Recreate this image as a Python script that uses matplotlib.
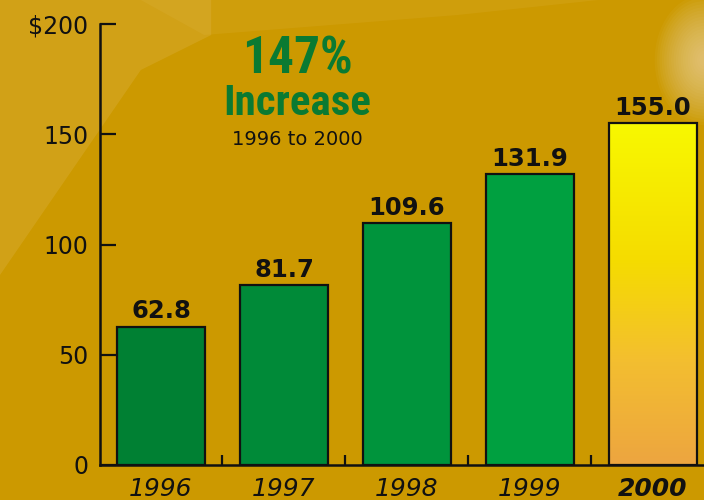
"""
Bar chart: spending 1996-2000, 147% increase.
"""
import numpy as np
import matplotlib.pyplot as plt
from matplotlib.patches import Polygon, Ellipse
from matplotlib.colors import LinearSegmentedColormap

years = ["1996", "1997", "1998", "1999", "2000"]
values = [62.8, 81.7, 109.6, 131.9, 155.0]
bar_colors = ["#008033", "#008a38", "#00943c", "#00a040", None]
y_ticks = [0, 50, 100, 150, 200]
y_labels = ["0", "50", "100", "150", "$200"]

BG = "#cc9900"
INK = "#111111"

fig = plt.figure(figsize=(7.04, 5.0), dpi=100, facecolor=BG)

# soft lighter patches in the background
fig.patches.append(Polygon([(0, 1), (0.3, 1), (0.3, 0.93), (0.2, 0.86),
                            (0.0, 0.45)], closed=True, transform=fig.transFigure,
                           facecolor="#f0d090", alpha=0.16, lw=0, zorder=-5))
fig.patches.append(Polygon([(0.2, 1), (0.85, 1), (0.65, 0.97), (0.29, 0.93)],
                           closed=True, transform=fig.transFigure,
                           facecolor="#e8c060", alpha=0.13, lw=0, zorder=-5))
# glow at the top right
for k in range(20):
    s = 1 - k / 21
    fig.patches.append(Ellipse((1.0, 0.88), 0.14 * s, 0.26 * s,
                               transform=fig.transFigure, facecolor="#f2dcb0",
                               alpha=0.05, lw=0, zorder=-5))

ax = fig.add_axes([100 / 704, 0.07, 604 / 704, 0.882])
ax.set_facecolor("none")

x = np.arange(len(years))
bars = ax.bar(x, values, width=0.716, color=[c if c else "none" for c in bar_colors],
              edgecolor=INK, linewidth=1.6, zorder=3)

# gradient fill for the 2000 bar
grad = LinearSegmentedColormap.from_list(
    "g", [(0, "#eda540"), (0.3, "#f3be30"), (0.6, "#f5dc00"), (1, "#f8f800")])
b = bars[-1]
x0, w, h = b.get_x(), b.get_width(), b.get_height()
im = ax.imshow(np.linspace(0, 1, 256).reshape(-1, 1), cmap=grad, origin="lower",
               extent=[x0, x0 + w, 0, h], aspect="auto", zorder=2)
im.set_clip_path(b)

for xi, v in zip(x, values):
    ax.text(xi, v + 1.5, f"{v:.1f}", ha="center", va="bottom", fontsize=17.5,
            fontweight="bold", family=["DejaVu Sans"], color=INK)

ax.set_xlim(-0.496, 4.415)
ax.set_ylim(0, 200)

for s in ["top", "right"]:
    ax.spines[s].set_visible(False)
for s in ["left", "bottom"]:
    ax.spines[s].set_linewidth(1.8)
    ax.spines[s].set_color(INK)

ax.set_yticks(y_ticks)
ax.set_yticklabels(y_labels, fontsize=17, color=INK)
ax.tick_params(axis="y", direction="in", length=11.5, width=1.6, pad=8.5,
               color=INK)

ax.set_xticks(x)
ax.set_xticks([0.5, 1.5, 2.5, 3.5], minor=True)
ax.tick_params(axis="x", which="major", length=0, pad=9)
ax.tick_params(axis="x", which="minor", direction="in", length=7, width=1.6,
               color=INK)
ax.set_xticklabels(years, fontsize=18, style="italic", color=INK)
ax.get_xticklabels()[-1].set_fontweight("bold")

narrow = ["Roboto Condensed", "Noto Sans Condensed", "Liberation Sans Narrow",
          "Noto Sans", "DejaVu Sans"]
ax.text(1.11, 184.0, "147%", ha="center", va="center", fontsize=37,
        fontweight="bold", fontstretch="extra-condensed", family=narrow,
        color="#0a7a32")
ax.text(1.11, 164, "Increase", ha="center", va="center", fontsize=31,
        fontweight="bold", fontstretch="extra-condensed", family=narrow,
        color="#0a7a32")
ax.text(1.11, 147.8, "1996 to 2000", ha="center", va="center", fontsize=14,
        color=INK)

fig.savefig("out.png", dpi=100, facecolor=BG)
